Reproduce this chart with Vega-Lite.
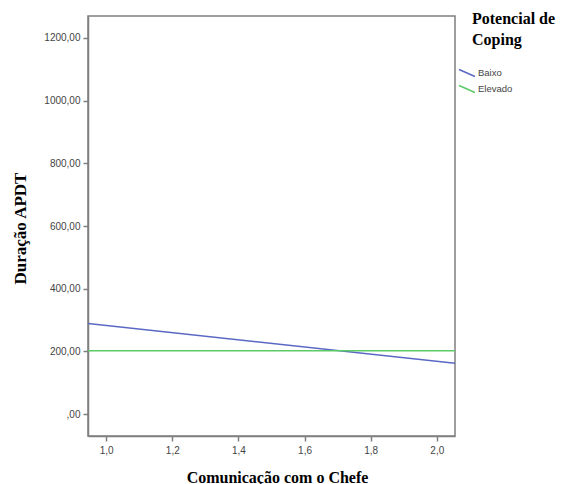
{
  "$schema": "https://vega.github.io/schema/vega-lite/v6.json",
  "width": 367,
  "height": 420,
  "autosize": "none",
  "padding": {"left": 88, "top": 16, "right": 108, "bottom": 48},
  "background": "white",
  "config": {
    "view": {"stroke": "#7f7f7f", "strokeWidth": 1.5},
    "axis": {
      "grid": false,
      "domainColor": "#7f7f7f",
      "domainWidth": 1.5,
      "tickColor": "#7f7f7f",
      "tickWidth": 1.5,
      "tickSize": 5,
      "labelFont": "Liberation Sans",
      "labelFontSize": 10,
      "labelColor": "#444444",
      "titleFont": "Liberation Serif",
      "titleFontWeight": "bold",
      "titleFontSize": 16,
      "titleColor": "#000000"
    }
  },
  "data": {
    "values": [
      {"x": 0.945, "y": 289, "grupo": "Baixo"},
      {"x": 2.055, "y": 162, "grupo": "Baixo"},
      {"x": 0.945, "y": 202, "grupo": "Elevado"},
      {"x": 2.055, "y": 202, "grupo": "Elevado"}
    ]
  },
  "mark": {"type": "line", "strokeWidth": 1.5, "clip": true},
  "encoding": {
    "x": {
      "field": "x",
      "type": "quantitative",
      "scale": {"domain": [0.945, 2.055], "nice": false, "zero": false},
      "axis": {
        "values": [1.0, 1.2, 1.4, 1.6, 1.8, 2.0],
        "labelExpr": "replace(format(datum.value, '.1f'), '.', ',')",
        "title": "Comunicação com o Chefe",
        "titleBaseline": "middle",
        "titleY": 41,
        "titleX": 189,
        "labelPadding": 4
      }
    },
    "y": {
      "field": "y",
      "type": "quantitative",
      "scale": {"domain": [-70, 1270], "nice": false, "zero": false},
      "axis": {
        "values": [0, 200, 400, 600, 800, 1000, 1200],
        "labelExpr": "datum.value == 0 ? ',00' : replace(format(datum.value, '.2f'), '.', ',')",
        "title": "Duração APDT",
        "titleFontSize": 17,
        "titleBaseline": "middle",
        "titleX": -68,
        "titleY": 212,
        "labelPadding": 3
      }
    },
    "color": {
      "field": "grupo",
      "type": "nominal",
      "scale": {"domain": ["Baixo", "Elevado"], "range": ["#5a68c4", "#5ccb67"]},
      "legend": {
        "title": ["Potencial de", "Coping"],
        "orient": "none",
        "legendX": 384,
        "legendY": -5,
        "padding": 0,
        "titleFont": "Liberation Serif",
        "titleFontWeight": "bold",
        "titleFontSize": 16,
        "titleLineHeight": 21,
        "titleColor": "#000000",
        "titlePadding": 18,
        "symbolType": "M-1.33,-0.58L1.33,0.58",
        "symbolSize": 144,
        "symbolStrokeWidth": 1.5,
        "symbolOffset": -12,
        "labelOffset": 4,
        "labelFont": "Liberation Sans",
        "labelFontSize": 9.5,
        "labelColor": "#444444",
        "rowPadding": 2
      }
    }
  }
}
